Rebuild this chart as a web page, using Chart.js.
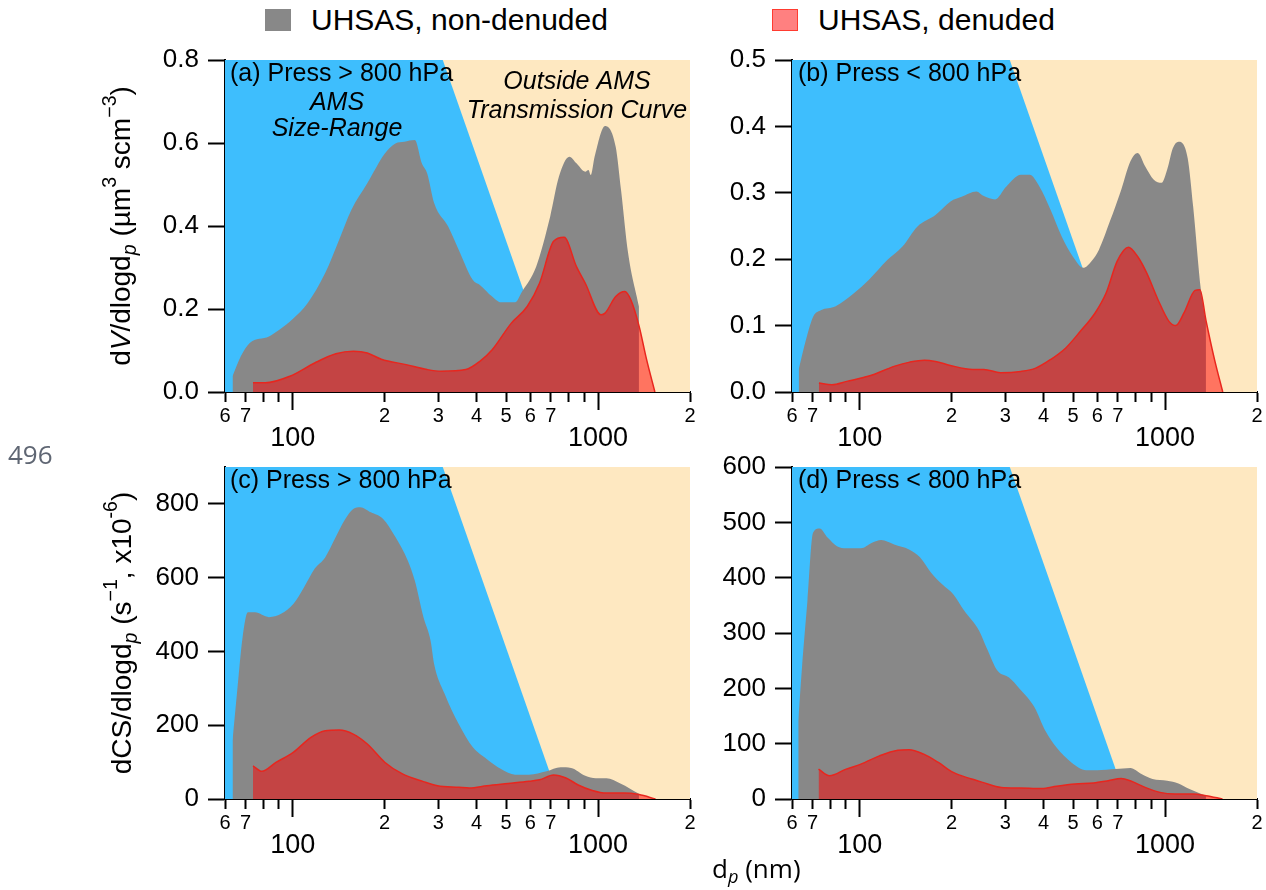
<!DOCTYPE html>
<html lang="en">
<head>
<meta charset="UTF-8">
<title>UHSAS volume and condensation sink distributions</title>
<script src="https://cdn.jsdelivr.net/npm/chart.js"></script>
<style>
  body { margin: 0; width: 1266px; height: 890px; position: relative; overflow: hidden; background: #fff;
         font-family: "Liberation Sans", Arial, sans-serif; color: #000; }
  canvas { position: absolute; }
  .ytitle { position: absolute; white-space: nowrap; font-size: 28px; line-height: 1;
            transform: translate(-50%, -50%) rotate(-90deg); }
  .sup, .sub { font-size: 70%; position: relative; }
  .sup { top: -0.7em; }
  .sub { top: 0.3em; }
  .legend-item { position: absolute; top: 4px; font-size: 30px; line-height: 32px; white-space: nowrap; }
  .key { position: absolute; width: 26px; height: 22px; top: 9px; box-sizing: border-box; }
  #pageNo { position: absolute; left: 8px; top: 436px; font: 26px "Open Sans", sans-serif; color: #5f6673; }
  #xtitle { position: absolute; left: 712px; top: 850px; font: 26px "Open Sans", sans-serif; white-space: nowrap; }
</style>
</head>
<body>
  <span class="key" style="left:265px; background:#888888"></span>
  <div class="legend-item" style="left:311px">UHSAS, non-denuded</div>
  <span class="key" style="left:772px; background:#ff8080; border:1.5px solid #ff3b30"></span>
  <div class="legend-item" style="left:818px">UHSAS, denuded</div>

  <canvas id="panelA" width="700" height="431" style="left:0; top:36px"></canvas>
  <canvas id="panelB" width="566" height="431" style="left:700px; top:36px"></canvas>
  <canvas id="panelC" width="700" height="447" style="left:0; top:443px"></canvas>
  <canvas id="panelD" width="566" height="447" style="left:700px; top:443px"></canvas>

  <div class="ytitle" style="left:121px; top:226px">d<i>V</i>/dlogd<span class="sub"><i>p</i></span> (µm<span class="sup">3</span> scm<span class="sup">−3</span>)</div>
  <div class="ytitle" style="left:122px; top:633px">dCS/dlogd<span class="sub"><i>p</i></span> (s<span class="sup">−1</span>, x10<span class="sup">-6</span>)</div>
  <div id="xtitle">d<span class="sub" style="font-style:italic">p</span> (nm)</div>
  <div id="pageNo">496</div>

<script>
// particle diameter (nm) and distributions
// (a) dV/dlogdp, Press > 800 hPa
const dpNonA = [63.5, 67.6, 72.3, 83.6, 90.4, 100, 111.8, 127.6, 141.9, 155.7, 175.4, 200.3, 216.9, 232, 251, 264.7, 275.5, 290.6, 322.9, 349.5, 389, 410, 449.8, 480.8, 534.7, 563.9, 626.8, 696.9, 744.5, 805.6, 849.6, 908, 930, 946, 974, 1054, 1142, 1189, 1254, 1361];
const dvNonA = [0.038, 0.086, 0.118, 0.134, 0.150, 0.176, 0.214, 0.286, 0.367, 0.439, 0.503, 0.575, 0.599, 0.603, 0.607, 0.551, 0.527, 0.455, 0.399, 0.343, 0.270, 0.258, 0.230, 0.216, 0.216, 0.242, 0.302, 0.423, 0.519, 0.567, 0.551, 0.531, 0.535, 0.523, 0.567, 0.641, 0.591, 0.487, 0.335, 0.206];
const dpDenA = [74.1, 81.3, 97.9, 118, 138.4, 157.9, 175.4, 195, 234.9, 275.5, 306, 368.7, 410, 450, 520, 586, 643, 715, 774, 849.6, 908, 1023, 1054, 1142, 1223, 1280, 1361, 1440, 1535];
const dvDenA = [0.022, 0.022, 0.038, 0.070, 0.092, 0.098, 0.094, 0.079, 0.066, 0.054, 0.050, 0.054, 0.074, 0.102, 0.166, 0.206, 0.262, 0.363, 0.373, 0.302, 0.262, 0.186, 0.190, 0.230, 0.242, 0.222, 0.160, 0.080, 0];

// (b) dV/dlogdp, Press < 800 hPa
const dpNonB = [63.1, 66.7, 70.5, 74.6, 83.4, 95.9, 107.2, 123.3, 138, 154.3, 177.4, 198.3, 215.6, 241, 255, 277.5, 301.6, 337.3, 360, 388, 421.9, 458.6, 498.8, 539.5, 573.9, 606.9, 659.6, 717.6, 769.4, 813.4, 860.3, 916.9, 974.5, 1016, 1060, 1106, 1186, 1236, 1310, 1361];
const dvNonB = [0.034, 0.079, 0.114, 0.123, 0.129, 0.149, 0.169, 0.199, 0.219, 0.249, 0.267, 0.287, 0.294, 0.302, 0.295, 0.290, 0.309, 0.327, 0.327, 0.309, 0.274, 0.234, 0.204, 0.187, 0.197, 0.214, 0.257, 0.304, 0.347, 0.360, 0.340, 0.320, 0.315, 0.335, 0.367, 0.377, 0.352, 0.279, 0.154, 0.105];
const dpDenB = [73.5, 81.1, 90.7, 107.2, 130.3, 145.8, 163, 177, 198, 234.4, 255, 289, 337, 377, 422, 472, 527, 590, 641, 697, 758, 813, 871, 948, 1031, 1084, 1153, 1254, 1300, 1361, 1450, 1545];
const dvDenB = [0.0135, 0.011, 0.016, 0.024, 0.039, 0.045, 0.048, 0.046, 0.040, 0.034, 0.034, 0.029, 0.031, 0.036, 0.049, 0.066, 0.091, 0.119, 0.149, 0.197, 0.218, 0.204, 0.179, 0.139, 0.106, 0.100, 0.119, 0.153, 0.154, 0.108, 0.050, 0];

// (c) dCS/dlogdp, Press > 800 hPa
const dpNonC = [63.5, 65.8, 68.5, 71.3, 75.2, 83.6, 91.6, 100.6, 108.9, 117.9, 127.7, 138.3, 147.6, 157.8, 166.4, 180.2, 197.7, 216.9, 238.2, 251, 268, 282.8, 290.4, 314.3, 349.6, 389, 432.5, 481, 535, 594, 678, 754, 816, 908, 983, 1065, 1183, 1361];
const csNonC = [158, 294, 438, 506, 506, 493, 502, 529, 574, 624, 655, 710, 755, 786, 791, 777, 759, 710, 646, 592, 493, 429, 366, 285, 203, 140, 108, 81, 66, 66, 75, 86, 84, 63, 56, 56, 42, 14];
const dpDenC = [74.1, 79.2, 88.1, 100.6, 114.7, 127.7, 142, 157.8, 175.5, 200.5, 228.7, 268, 298, 349.6, 378.8, 432.5, 507, 594, 643, 715, 785, 861, 957, 1065, 1216, 1361, 1542];
const csDenC = [90, 75, 99, 127, 167, 185, 187, 176, 149, 99, 68, 47, 36, 32, 30, 36, 42, 48, 52, 65, 57, 38, 23, 16, 16, 12, 0];

// (d) dCS/dlogdp, Press < 800 hPa
const dpNonD = [62.9, 64.7, 67.4, 70.3, 73.9, 78.6, 84.2, 90.3, 100.9, 109.7, 117.6, 129.6, 145, 157.5, 171.3, 186.2, 202.4, 220, 246, 260, 282.7, 307.5, 334.3, 373.5, 405.8, 441.2, 493.4, 551, 599.3, 688.5, 769.4, 837, 909.5, 1016, 1105.6, 1202, 1361];
const csNonD = [141, 238, 358, 481, 489, 472, 457, 453, 453, 463, 468, 460, 451, 437, 409, 388, 370, 340, 304, 274, 232, 220, 199, 166, 123, 93, 66, 52, 52, 54, 56, 45, 36, 33, 28, 18, 6];
const dpDenD = [73.3, 79.6, 90.3, 100.9, 116, 133.3, 145, 162, 181, 202.4, 232.6, 253, 290.6, 334.3, 394.6, 441, 507, 582, 651, 718, 769, 860, 962, 1075, 1236, 1361, 1542];
const csDenD = [54, 42, 54, 63, 78, 88, 89, 81, 66, 48, 36, 30, 21, 20, 19, 23, 27, 29, 33, 37, 33, 21, 12, 9, 9, 6, 0];

// AMS transmission (fraction of axis height) and the region outside it
const amsDp = [60, 310, 745];
const amsFrac = [1, 1, 0];
const outsideDp = [60, 2000];
const outsideFrac = [1, 1];

// axis ticks and labels
const xTicksMinor = [60, 70, 80, 90, 200, 300, 400, 500, 600, 700, 800, 900, 2000];
const xLabelsMinor = ['6', '7', '', '', '2', '3', '4', '5', '6', '7', '', '', '2'];
const xTicksMajor = [100, 1000];
const xLabelsMajor = ['100', '1000'];
const yTicksA = [0, 0.2, 0.4, 0.6, 0.8];
const yLabelsA = ['0.0', '0.2', '0.4', '0.6', '0.8'];
const yTicksB = [0, 0.1, 0.2, 0.3, 0.4, 0.5];
const yLabelsB = ['0.0', '0.1', '0.2', '0.3', '0.4', '0.5'];
const yTicksC = [0, 200, 400, 600, 800];
const yLabelsC = ['0', '200', '400', '600', '800'];
const yTicksD = [0, 100, 200, 300, 400, 500, 600];
const yLabelsD = ['0', '100', '200', '300', '400', '500', '600'];

Chart.defaults.font.family = '"Liberation Sans", Arial, sans-serif';
Chart.defaults.color = '#000';

const zip = (xs, ys) => xs.map((x, i) => ({ x: x, y: ys[i] }));

// panel texts, offsets in px from the chart area's left/top
const panelText = {
  id: 'panelText',
  afterDatasetsDraw(chart, args, opts) {
    const { ctx, chartArea } = chart;
    ctx.save();
    ctx.fillStyle = '#000';
    for (const t of opts.items || []) {
      ctx.font = (t.italic ? 'italic ' : '') + '25px "Liberation Sans", Arial, sans-serif';
      ctx.textAlign = t.align || 'left';
      ctx.textBaseline = 'alphabetic';
      ctx.fillText(t.text, chartArea.left + t.dx, chartArea.top + t.dy);
    }
    ctx.restore();
  }
};

function makePanel(canvasId, p) {
  const line = { pointRadius: 0, fill: 'origin', xAxisID: 'x' };
  return new Chart(document.getElementById(canvasId), {
    type: 'line',
    data: {
      datasets: [
        { ...line, label: 'UHSAS, denuded', data: zip(p.denDp, p.denVal), backgroundColor: 'rgba(255,0,0,0.5)',
          borderColor: '#e8261e', borderWidth: 1.5, cubicInterpolationMode: 'monotone', order: 1 },
        { ...line, label: 'UHSAS, non-denuded', data: zip(p.nonDp, p.nonVal), backgroundColor: '#888888',
          borderColor: 'transparent', borderWidth: 1, cubicInterpolationMode: 'monotone', order: 2 },
        { ...line, label: 'AMS Size-Range', data: zip(amsDp, amsFrac), yAxisID: 'yT', backgroundColor: '#3ebefd',
          borderColor: 'transparent', borderWidth: 1, order: 3 },
        { ...line, label: 'Outside AMS Transmission Curve', data: zip(outsideDp, outsideFrac), yAxisID: 'yT',
          backgroundColor: '#fee8c1', borderColor: 'transparent', borderWidth: 1, order: 4 }
      ]
    },
    options: {
      responsive: false,
      animation: false,
      // the y axis asks for 15 + 9 px above its top label, which puts the plot 24 px below the canvas top
      layout: { padding: { left: 0, top: 0, right: p.padRight, bottom: 0 } },
      plugins: {
        legend: { display: false },
        tooltip: { enabled: false },
        panelText: { items: p.texts }
      },
      scales: {
        x: {
          type: 'logarithmic', position: 'bottom', min: 60, max: 2000,
          afterBuildTicks: s => { s.ticks = xTicksMajor.map(v => ({ value: v })); },
          afterFit: s => { s.height = p.xHeight; },
          ticks: { callback: (v, i) => xLabelsMajor[i], autoSkip: false, maxRotation: 0, padding: 12, font: { size: 27 } },
          grid: { drawOnChartArea: false, tickLength: 18, tickWidth: 2, tickColor: '#000' },
          border: { display: false }
        },
        xm: {
          axis: 'x', type: 'logarithmic', position: { y: 0 }, min: 60, max: 2000,
          afterBuildTicks: s => { s.ticks = xTicksMinor.map(v => ({ value: v })); },
          ticks: { callback: (v, i) => xLabelsMinor[i], autoSkip: false, maxRotation: 0, padding: 3, font: { size: 20 } },
          grid: { drawOnChartArea: false, tickLength: 9, tickWidth: 2, tickColor: '#000' },
          border: { display: true, color: '#000', width: 2 }
        },
        y: {
          type: 'linear', position: 'left', min: 0, max: p.yMax,
          afterBuildTicks: s => { s.ticks = p.yTicks.map(v => ({ value: v })); },
          afterFit: s => { s.width = p.yWidth; },
          ticks: { callback: (v, i) => p.yLabels[i], padding: 9, font: { size: 26, lineHeight: '30px' } },
          grid: { drawOnChartArea: false, tickLength: 17, tickWidth: 2, tickColor: '#000' },
          border: { display: true, color: '#000', width: 2 }
        },
        yT: { type: 'linear', min: 0, max: 1, display: false }
      }
    },
    plugins: [panelText]
  });
}

const textsTopLeft = [
  { text: '(a) Press > 800 hPa', dx: 5, dy: 21 },
  { text: 'AMS', dx: 112, dy: 50, italic: true, align: 'center' },
  { text: 'Size-Range', dx: 112, dy: 76, italic: true, align: 'center' },
  { text: 'Outside AMS', dx: 352, dy: 29, italic: true, align: 'center' },
  { text: 'Transmission Curve', dx: 352, dy: 58, italic: true, align: 'center' }
];

makePanel('panelA', { nonDp: dpNonA, nonVal: dvNonA, denDp: dpDenA, denVal: dvDenA, yMax: 0.8,
  yTicks: yTicksA, yLabels: yLabelsA, yWidth: 225, padRight: 10, xHeight: 75, texts: textsTopLeft });
makePanel('panelB', { nonDp: dpNonB, nonVal: dvNonB, denDp: dpDenB, denVal: dvDenB, yMax: 0.5,
  yTicks: yTicksB, yLabels: yLabelsB, yWidth: 92, padRight: 9, xHeight: 75,
  texts: [{ text: '(b) Press < 800 hPa', dx: 6, dy: 21 }] });
makePanel('panelC', { nonDp: dpNonC, nonVal: csNonC, denDp: dpDenC, denVal: csDenC, yMax: 900,
  yTicks: yTicksC, yLabels: yLabelsC, yWidth: 225, padRight: 10, xHeight: 91,
  texts: [{ text: '(c) Press > 800 hPa', dx: 5, dy: 21 }] });
makePanel('panelD', { nonDp: dpNonD, nonVal: csNonD, denDp: dpDenD, denVal: csDenD, yMax: 600,
  yTicks: yTicksD, yLabels: yLabelsD, yWidth: 92, padRight: 9, xHeight: 91,
  texts: [{ text: '(d) Press < 800 hPa', dx: 6, dy: 21 }] });
</script>
</body>
</html>
